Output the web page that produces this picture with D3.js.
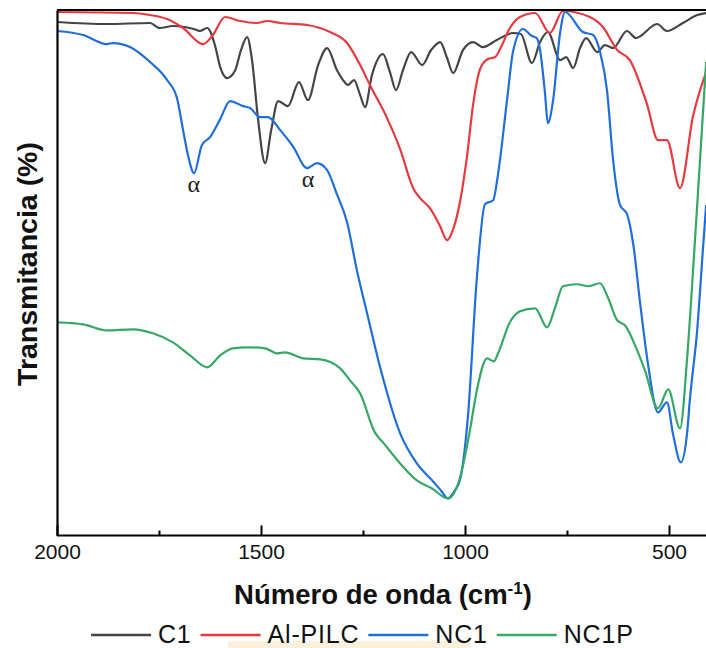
<!DOCTYPE html>
<html>
<head>
<meta charset="utf-8">
<script src="https://cdn.jsdelivr.net/npm/d3@7"></script>
<style>
  html, body { margin: 0; padding: 0; background: #fff; }
  svg { display: block; }
</style>
</head>
<body>
<script>
// ---- Data (wavenumber in cm-1, transmittance in arbitrary units) ----
const c1Wn = [2000,1878,1772,1748,1716,1657,1650,1632,1613,1600,1583,1564,1549,1534,1522,1507,1490,1475,1458,1434,1407,1385,1360,1338,1314,1299,1287,1272,1257,1245,1228,1201,1184,1169,1152,1132,1105,1083,1061,1044,1029,1005,980,956,922,882,863,836,816,797,767,752,735,718,703,676,657,637,603,581,529,505,466,431,409];
const c1T  = [513,511,512,507,509,505,504,507,490,468,457,464,485,498,475,415,372,405,434,429,453,435,470,487,465,455,450,455,440,428,460,481,463,445,465,483,470,485,493,477,462,485,493,488,495,502,501,472,493,503,475,478,467,487,497,483,490,487,504,497,511,504,512,520,522];

const alWn = [2000,1814,1772,1730,1691,1642,1618,1588,1551,1510,1485,1453,1387,1331,1289,1257,1233,1191,1159,1127,1110,1086,1061,1044,1029,1012,995,980,963,944,926,914,890,865,828,792,760,694,662,627,596,554,527,505,473,441,409];
const alT  = [523,522,520,516,507,491,500,518,514,512,514,512,510,503,492,470,450,417,386,347,337,327,309,295,306,334,379,431,466,476,478,486,507,518,522,502,524,518,508,485,475,431,395,395,347,419,463];

const nc1Wn = [2000,1936,1878,1863,1821,1772,1730,1706,1691,1679,1664,1645,1625,1600,1576,1544,1527,1502,1483,1453,1422,1387,1363,1338,1314,1289,1265,1240,1208,1159,1118,1078,1059,1042,1025,1012,993,971,951,931,919,897,882,858,836,824,816,804,797,784,767,755,711,686,669,652,637,620,603,588,571,551,527,505,490,471,456,449,431,417,409];
const nc1T  = [504,500,491,492,488,473,455,437,405,380,362,390,398,416,434,429,427,418,418,405,389,367,372,365,341,313,265,222,168,102,72,54,45,37,45,56,118,257,331,335,361,435,484,506,499,497,485,442,412,435,502,523,503,500,483,445,375,330,321,292,233,170,123,133,101,73,101,135,205,285,330];

const nc1pWn = [2000,1936,1878,1814,1765,1716,1674,1632,1600,1569,1532,1490,1461,1441,1397,1355,1306,1282,1257,1221,1201,1159,1118,1081,1042,1012,988,971,946,929,919,890,865,828,799,779,760,725,698,669,650,627,608,578,559,527,502,473,456,441,424,409];
const nc1pT  = [213,211,205,206,202,193,180,168,180,187,188,187,182,183,177,176,167,155,142,103,93,72,55,47,37,58,105,145,177,174,182,213,224,227,208,228,249,251,249,252,238,215,210,185,165,127,146,107,175,265,375,473];

const seriesNames  = ["C1", "Al-PILC", "NC1", "NC1P"];
const seriesColors = ["#454545", "#e8393f", "#1e6fdc", "#36a865"];
const majorTicks = [2000, 1500, 1000, 500];
const minorTicks = [1750, 1250, 750];
const alphaMarks = [{wn: 1665, t: 362}, {wn: 1385, t: 367}];

// ---- Layout ----
const W = 706, H = 648;
const mLeft = 57, mRight = 709.8, mTop = 10, mBottom = 535.5;

const svg = d3.select("body").append("svg")
  .attr("width", W).attr("height", H);

const x = d3.scaleLinear().domain([2000, 400]).range([mLeft, mRight]);
const y = d3.scaleLinear().domain([0, 525]).range([mBottom, mTop]);

svg.append("defs").append("clipPath").attr("id", "plotclip")
  .append("rect").attr("x", mLeft).attr("y", mTop - 2)
  .attr("width", W - mLeft).attr("height", mBottom - mTop + 2);

// faint highlight artefact under legend
svg.append("rect").attr("x", 228).attr("y", 641).attr("width", 242).attr("height", 8)
  .attr("fill", "#fdf0dc");

const series = [
  {wn: c1Wn, t: c1T},
  {wn: alWn, t: alT},
  {wn: nc1Wn, t: nc1T},
  {wn: nc1pWn, t: nc1pT}
];

const line = d3.line()
  .x(d => x(d[0]))
  .y(d => y(d[1]))
  .curve(d3.curveMonotoneX);

const g = svg.append("g").attr("clip-path", "url(#plotclip)");
series.forEach((s, i) => {
  const pts = s.wn.map((w, k) => [w, s.t[k]]);
  g.append("path")
    .datum(pts)
    .attr("d", line)
    .attr("fill", "none")
    .attr("stroke", seriesColors[i])
    .attr("stroke-width", 2.2)
    .attr("stroke-linejoin", "round");
});

// ---- Axes ----
const xAxis = d3.axisBottom(x)
  .tickValues(majorTicks)
  .tickSizeInner(-10)
  .tickSizeOuter(0)
  .tickPadding(9)
  .tickFormat(d3.format("d"));

const gx = svg.append("g").attr("transform", `translate(0,${mBottom})`).call(xAxis);
gx.select(".domain").attr("stroke", "#000").attr("stroke-width", 2.2)
  .attr("d", `M${mLeft},0H${W}`);
gx.selectAll(".tick line").attr("stroke", "#000").attr("stroke-width", 2);
gx.selectAll(".tick text")
  .attr("font-family", "'Liberation Sans', Arial, sans-serif")
  .attr("font-size", 21).attr("fill", "#111");

const xMinor = d3.axisBottom(x).tickValues(minorTicks).tickSizeInner(-5).tickSizeOuter(0).tickFormat("");
const gxm = svg.append("g").attr("transform", `translate(0,${mBottom})`).call(xMinor);
gxm.select(".domain").remove();
gxm.selectAll(".tick line").attr("stroke", "#000").attr("stroke-width", 2);

const yAxis = d3.axisLeft(y).tickValues([]).tickSizeOuter(0);
const gy = svg.append("g").attr("transform", `translate(${mLeft},0)`).call(yAxis);
gy.select(".domain").attr("stroke", "#000").attr("stroke-width", 2.2);

// top border
svg.append("line").attr("x1", mLeft).attr("x2", W).attr("y1", mTop).attr("y2", mTop)
  .attr("stroke", "#000").attr("stroke-width", 2.2);

// ---- alpha labels ----
svg.selectAll("text.alpha").data(alphaMarks).enter().append("text")
  .attr("class", "alpha")
  .attr("x", d => x(d.wn))
  .attr("y", d => y(d.t) + 19)
  .attr("text-anchor", "middle")
  .attr("font-family", "'Liberation Serif', 'Times New Roman', serif")
  .attr("font-size", 24)
  .attr("fill", "#222")
  .text("α");

// ---- Axis titles ----
const xt = svg.append("text")
  .attr("x", 383).attr("y", 604)
  .attr("text-anchor", "middle")
  .attr("font-family", "'Liberation Sans', Arial, sans-serif")
  .attr("font-weight", "bold").attr("font-size", 27.5).attr("fill", "#111");
xt.append("tspan").text("Número de onda (cm");
xt.append("tspan").attr("font-size", 17).attr("dy", -10).text("-1");
xt.append("tspan").attr("dy", 10).text(")");

svg.append("text")
  .attr("transform", "translate(37,264) rotate(-90)")
  .attr("text-anchor", "middle")
  .attr("font-family", "'Liberation Sans', Arial, sans-serif")
  .attr("font-weight", "bold").attr("font-size", 28.5).attr("fill", "#111")
  .text("Transmitancia (%)");

// ---- Legend ----
const lg = svg.append("g");
let lx = 91;
const ly = 635;
seriesNames.forEach((name, i) => {
  lg.append("line").attr("x1", lx).attr("x2", lx + 60).attr("y1", ly).attr("y2", ly)
    .attr("stroke", seriesColors[i]).attr("stroke-width", 2.5);
  const t = lg.append("text").attr("x", lx + 67).attr("y", ly + 8)
    .attr("font-family", "'Liberation Sans', Arial, sans-serif")
    .attr("font-size", 25).attr("letter-spacing", 0.8)
    .attr("fill", "#111").text(name);
  lx = lx + 67 + t.node().getComputedTextLength() + 9;
});
</script>
</body>
</html>
